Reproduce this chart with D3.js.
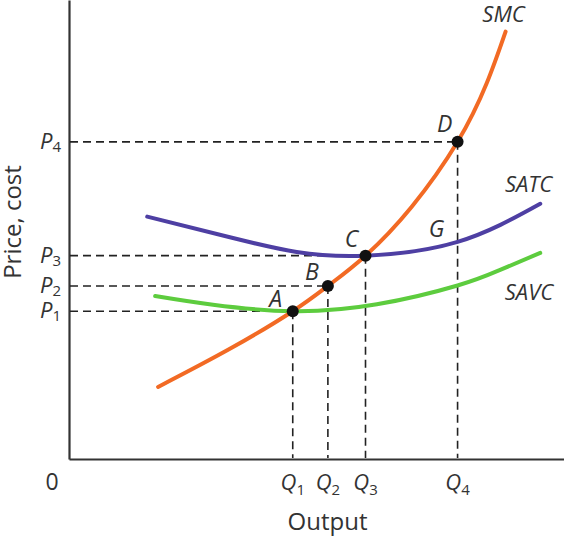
<!DOCTYPE html>
<html>
<head>
<meta charset="utf-8">
<script src="https://cdn.jsdelivr.net/npm/d3@7"></script>
<style>
  body { margin: 0; background: #fff; }
  svg { display: block; }
  text { font-family: "Open Sans", "Noto Sans", sans-serif; fill: #333; }
  .italic { font-style: italic; }
</style>
</head>
<body>
<svg></svg>
<script>
// chart size
var width = 564;
var height = 536;

// data (output units 0-100, cost units 0-100)
var quantities = [45.2, 52.3, 59.9, 78.5];   // Q1..Q4
var prices = [32.2, 37.7, 44.3, 69.1];       // P1..P4
var pointNames = ['A', 'B', 'C', 'D'];
var tickSubs = ['1', '2', '3', '4'];

var smc = [[18.0, 15.7], [32.5, 24.0], [45.2, 32.2], [52.3, 37.7], [59.9, 44.3],
           [69.2, 54.9], [78.5, 69.1], [84.4, 81.9], [88.2, 93.1]];
var satc = [[15.8, 52.8], [32.5, 48.3], [46.0, 45.1], [59.9, 44.3],
            [78.5, 47.3], [95.2, 55.6]];
var savc = [[17.4, 35.5], [29.1, 33.6], [45.2, 32.2], [62.2, 33.7],
            [78.5, 37.8], [87.1, 41.2], [95.2, 44.9]];
var curveNames = ['SMC', 'SATC', 'SAVC'];
var gPoint = [78.5, 47.3]; // G on SATC at Q4

var svg = d3.select('svg')
  .attr('width', width)
  .attr('height', height);

// scales
var x = d3.scaleLinear().domain([0, 100]).range([69, 564]);
var y = d3.scaleLinear().domain([0, 100]).range([459, 0]);

// axes - plain lines, labels drawn by hand because of the subscripts
svg.append('g')
  .attr('transform', 'translate(0,' + y(0) + ')')
  .call(d3.axisBottom(x).tickValues([]).tickSizeOuter(0))
  .select('.domain').attr('stroke', '#333').attr('stroke-width', 2.2);

svg.append('g')
  .attr('transform', 'translate(' + x(0) + ',0)')
  .call(d3.axisLeft(y).tickValues([]).tickSizeOuter(0))
  .select('.domain').attr('stroke', '#333').attr('stroke-width', 2.2);

// dashed guides
var guides = svg.append('g')
  .attr('stroke', '#222')
  .attr('stroke-width', 1.6)
  .attr('stroke-dasharray', '8,5');

guides.selectAll('line.h')
  .data(prices)
  .enter().append('line')
    .attr('class', 'h')
    .attr('x1', x(0) + 1)
    .attr('x2', (d, i) => x(quantities[i]))
    .attr('y1', d => y(d))
    .attr('y2', d => y(d));

guides.selectAll('line.v')
  .data(quantities)
  .enter().append('line')
    .attr('class', 'v')
    .attr('x1', d => x(d))
    .attr('x2', d => x(d))
    .attr('y1', (d, i) => y(prices[i]))
    .attr('y2', y(0) - 1);

// curves
var line = d3.line()
  .x(d => x(d[0]))
  .y(d => y(d[1]))
  .curve(d3.curveNatural);

var curves = [
  { data: savc, color: '#5dcc3e' },
  { data: satc, color: '#4e3fa3' },
  { data: smc, color: '#f26a24' }
];

svg.selectAll('path.curve')
  .data(curves)
  .enter().append('path')
    .attr('class', 'curve')
    .attr('d', d => line(d.data))
    .attr('fill', 'none')
    .attr('stroke', d => d.color)
    .attr('stroke-width', 4)
    .attr('stroke-linecap', 'round');

// intersection dots
svg.selectAll('circle')
  .data(quantities)
  .enter().append('circle')
    .attr('cx', d => x(d))
    .attr('cy', (d, i) => y(prices[i]))
    .attr('r', 6)
    .attr('fill', '#111');

// point letters
var letterOffsets = [[-17, -4], [-16, -6], [-14, -9], [-13, -10]];
svg.selectAll('text.pt')
  .data(pointNames)
  .enter().append('text')
    .attr('class', 'pt italic')
    .attr('x', (d, i) => x(quantities[i]) + letterOffsets[i][0])
    .attr('y', (d, i) => y(prices[i]) + letterOffsets[i][1])
    .style('text-anchor', 'middle')
    .style('font-size', '23px')
    .text(d => d);

svg.append('text')
  .attr('class', 'italic')
  .attr('x', x(gPoint[0]) - 21)
  .attr('y', y(gPoint[1]) - 5)
  .style('text-anchor', 'middle')
  .style('font-size', '23px')
  .text('G');

// curve names near the curve ends
var smcEnd = smc[smc.length - 1], satcEnd = satc[satc.length - 1], savcEnd = savc[savc.length - 1];
svg.append('text').attr('class', 'italic')
  .attr('x', x(smcEnd[0]) - 2).attr('y', y(smcEnd[1]) - 10)
  .style('text-anchor', 'middle').style('font-size', '22px')
  .text(curveNames[0]);
svg.append('text').attr('class', 'italic')
  .attr('x', x(satcEnd[0]) + 12).attr('y', y(satcEnd[1]) - 12)
  .style('text-anchor', 'end').style('font-size', '22px')
  .text(curveNames[1]);
svg.append('text').attr('class', 'italic')
  .attr('x', x(savcEnd[0]) + 13).attr('y', y(savcEnd[1]) + 47)
  .style('text-anchor', 'end').style('font-size', '22px')
  .text(curveNames[2]);

// P labels on the y axis
var pLab = svg.selectAll('text.plab')
  .data(prices)
  .enter().append('text')
    .attr('class', 'plab italic')
    .attr('x', x(0) - 8)
    .attr('y', d => y(d) + 7)
    .style('text-anchor', 'end')
    .style('font-size', '22px');
pLab.append('tspan').text('P');
pLab.append('tspan')
  .attr('dy', 3)
  .style('font-size', '15px')
  .style('font-style', 'normal')
  .text((d, i) => tickSubs[i]);

// Q labels on the x axis
var qLab = svg.selectAll('text.qlab')
  .data(quantities)
  .enter().append('text')
    .attr('class', 'qlab italic')
    .attr('x', d => x(d))
    .attr('y', 490)
    .style('text-anchor', 'middle')
    .style('font-size', '22px');
qLab.append('tspan').text('Q');
qLab.append('tspan')
  .attr('dy', 5)
  .style('font-size', '15px')
  .style('font-style', 'normal')
  .text((d, i) => tickSubs[i]);

// origin
svg.append('text')
  .attr('x', 52)
  .attr('y', 490)
  .style('text-anchor', 'middle')
  .style('font-size', '23px')
  .text('0');

// axis titles
svg.append('text')
  .attr('x', (x(0) + width) / 2 + 11)
  .attr('y', 530)
  .style('text-anchor', 'middle')
  .style('font-size', '24px')
  .text('Output');

svg.append('text')
  .attr('transform', 'rotate(-90)')
  .attr('x', -222)
  .attr('y', 21)
  .style('text-anchor', 'middle')
  .style('font-size', '24px')
  .text('Price, cost');
</script>
</body>
</html>
